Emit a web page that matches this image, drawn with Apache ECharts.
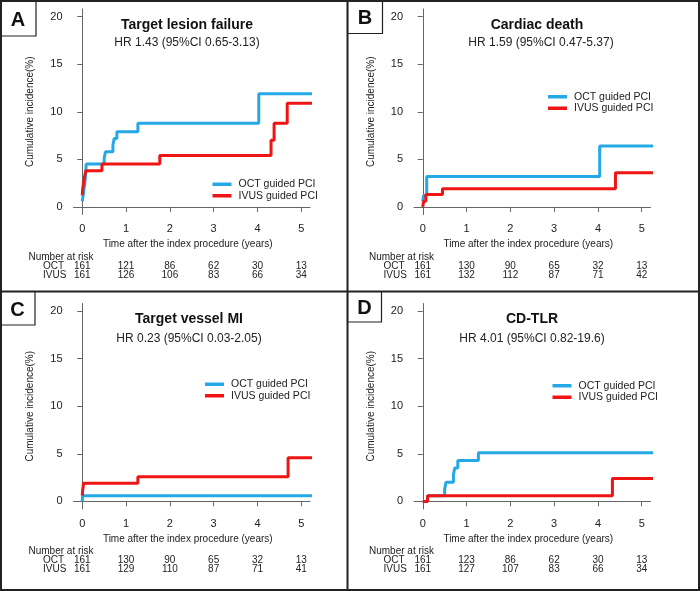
<!DOCTYPE html>
<html>
<head>
<meta charset="UTF-8">
<title></title>
<script src="https://cdn.jsdelivr.net/npm/echarts@6/dist/echarts.min.js"></script>
<style>
html, body { margin: 0; padding: 0; background: #fff; }
#main { width: 700px; height: 591px; }
</style>
</head>
<body>
<div id="main"></div>
<script>
var letters = ['A', 'B', 'C', 'D'];
var titles = ['Target lesion failure', 'Cardiac death', 'Target vessel MI', 'CD-TLR'];
var hrTexts = ['HR 1.43 (95%CI 0.65-3.13)', 'HR 1.59 (95%CI 0.47-5.37)',
               'HR 0.23 (95%CI 0.03-2.05)', 'HR 4.01 (95%CI 0.82-19.6)'];
var seriesNames = ['OCT guided PCI', 'IVUS guided PCI'];
var xTicks = [0, 1, 2, 3, 4, 5];
var yTicks = [0, 5, 10, 15, 20];

// step curves: time (years) / cumulative incidence (%) after each step
var octTimeA = [0, 0.02, 0.04, 0.06, 0.07, 0.08, 0.09, 0.50, 0.53, 0.70, 0.73, 0.79, 1.27, 4.03, 5.3];
var octValA  = [0.6, 1.2, 1.9, 2.5, 3.1, 3.7, 4.5, 5.1, 5.8, 6.5, 7.2, 7.9, 8.8, 11.9, 11.9];
var ivusTimeA = [0, 0.01, 0.03, 0.05, 0.08, 0.45, 1.77, 4.31, 4.38, 4.68, 5.3];
var ivusValA  = [1.2, 1.9, 2.5, 3.1, 3.8, 4.5, 5.4, 7.0, 8.8, 10.9, 10.9];

var octTimeB = [0, 0.02, 0.09, 4.04, 5.3];
var octValB  = [0.6, 1.2, 3.2, 6.4, 6.4];
var ivusTimeB = [0, 0.02, 0.07, 0.45, 4.40, 5.3];
var ivusValB  = [0, 0.6, 1.3, 1.9, 3.6, 3.6];

var octTimeC = [0, 0.01, 5.3];
var octValC  = [0, 0.6, 0.6];
var ivusTimeC = [0, 0.01, 0.03, 1.27, 4.70, 5.3];
var ivusValC  = [0.6, 1.2, 1.9, 2.6, 4.6, 4.6];

var octTimeD = [0, 0.11, 0.50, 0.53, 0.70, 0.73, 0.80, 1.27, 5.3];
var octValD  = [0, 0.6, 1.3, 2.0, 2.8, 3.5, 4.3, 5.1, 5.1];
var ivusTimeD = [0, 0.11, 4.33, 5.3];
var ivusValD  = [0, 0.6, 2.4, 2.4];

// number at risk at each x tick
var riskOctA = [161, 121, 86, 62, 30, 13];
var riskIvusA = [161, 126, 106, 83, 66, 34];
var riskOctB = [161, 130, 90, 65, 32, 13];
var riskIvusB = [161, 132, 112, 87, 71, 42];
var riskOctC = [161, 130, 90, 65, 32, 13];
var riskIvusC = [161, 129, 110, 87, 71, 41];
var riskOctD = [161, 123, 86, 62, 30, 13];
var riskIvusD = [161, 127, 107, 83, 66, 34];

var curves = [
  [[octTimeA, octValA], [ivusTimeA, ivusValA]],
  [[octTimeB, octValB], [ivusTimeB, ivusValB]],
  [[octTimeC, octValC], [ivusTimeC, ivusValC]],
  [[octTimeD, octValD], [ivusTimeD, ivusValD]]
];
var risks = [[riskOctA, riskIvusA], [riskOctB, riskIvusB], [riskOctC, riskIvusC], [riskOctD, riskIvusD]];

var FONT = 'Liberation Sans, Arial, Helvetica, sans-serif';
var TXT = '#222';
var AX = '#666';
var colors = ['#25a9e6', '#f01414'];
var GW = 236.5, GH = 205.5;

// layout of each panel
var panels = [
  { left: 73.5, top: 9, titleX: 187, titleY: 25, hrY: 43, legX: 212.5, legY: 178.5, box: [0, 0, 36, 36] },
  { left: 414, top: 9, titleX: 537, titleY: 25, hrY: 43, legX: 548, legY: 91, box: [347.5, 0, 35, 33.5] },
  { left: 73.5, top: 303.5, titleX: 189, titleY: 319.5, hrY: 338.5, legX: 205, legY: 378.5, box: [0, 291.5, 35, 33.5] },
  { left: 414, top: 303.5, titleX: 532, titleY: 319.5, hrY: 338.5, legX: 552.5, legY: 380, box: [347.5, 291.5, 34, 30.5] }
];

function pairs(t, v) {
  return t.map(function (x, i) { return [x, v[i]]; });
}

var grids = [], xAxes = [], yAxes = [], series = [], legends = [], graphics = [];

panels.forEach(function (p, k) {
  grids.push({ left: p.left, top: p.top, width: GW, height: GH });

  xAxes.push({
    gridIndex: k, type: 'value', min: -0.2, max: 5.2,
    name: 'Time after the index procedure (years)', nameLocation: 'middle', nameGap: 25,
    nameTextStyle: { fontFamily: FONT, fontSize: 10, color: TXT, padding: [0, 8, 0, 0] },
    axisLine: { lineStyle: { color: AX, width: 1 } },
    axisTick: { customValues: xTicks, length: 5, lineStyle: { color: AX } },
    axisLabel: { customValues: xTicks, margin: 9, fontFamily: FONT, fontSize: 11, color: TXT },
    splitLine: { show: false }
  });
  // risk table row, positioned under the same scale
  xAxes.push({
    gridIndex: k, type: 'value', min: -0.2, max: 5.2, position: 'bottom', offset: 40,
    axisLine: { show: false }, axisTick: { show: false }, splitLine: { show: false },
    axisLabel: {
      customValues: xTicks, margin: 7, fontFamily: FONT, fontSize: 10, lineHeight: 9, color: TXT,
      formatter: function (v) {
        var i = xTicks.indexOf(v);
        return risks[k][0][i] + '\n' + risks[k][1][i];
      }
    }
  });

  yAxes.push({
    gridIndex: k, type: 'value', min: -0.8, max: 20.8,
    name: 'Cumulative incidence(%)', nameLocation: 'middle', nameGap: 38,
    nameTextStyle: { fontFamily: FONT, fontSize: 10, color: TXT },
    axisLine: { show: true, lineStyle: { color: AX, width: 1 } },
    axisTick: { show: true, customValues: yTicks, length: 5, lineStyle: { color: AX } },
    axisLabel: { customValues: yTicks, margin: 11, fontFamily: FONT, fontSize: 11, color: TXT },
    splitLine: { show: false }
  });

  curves[k].forEach(function (c, s) {
    series.push({
      name: seriesNames[s], type: 'line', step: 'end',
      xAxisIndex: k * 2, yAxisIndex: k,
      data: pairs(c[0], c[1]),
      symbol: 'none', color: colors[s],
      lineStyle: { width: 3, color: colors[s] },
      z: 2 + s
    });
  });

  legends.push({
    data: seriesNames, orient: 'vertical', left: p.legX, top: p.legY,
    icon: 'rect', itemWidth: 19, itemHeight: 3.5, itemGap: 0, padding: 0,
    selectedMode: false,
    textStyle: { fontFamily: FONT, fontSize: 10.5, color: TXT, lineHeight: 11.5, padding: [0, 0, 0, 2] }
  });

  graphics.push({
    type: 'text', x: p.titleX, y: p.titleY,
    style: { text: titles[k], fontFamily: FONT, fontSize: 14, fontWeight: 'bold', fill: '#111',
             textAlign: 'center', textVerticalAlign: 'middle' }
  });
  graphics.push({
    type: 'text', x: p.titleX + (k === 1 ? 4 : 0), y: p.hrY,
    style: { text: hrTexts[k], fontFamily: FONT, fontSize: 12, fill: TXT,
             textAlign: 'center', textVerticalAlign: 'middle' }
  });

  var axisBottom = p.top + GH;
  graphics.push({
    type: 'text', x: p.left - 45, y: axisBottom + 42.5,
    style: { text: 'Number at risk', fontFamily: FONT, fontSize: 10, fill: TXT, textVerticalAlign: 'middle' }
  });
  graphics.push({
    type: 'text', x: p.left - 30.5, y: axisBottom + 51.7,
    style: { text: 'OCT', fontFamily: FONT, fontSize: 10, fill: TXT, textVerticalAlign: 'middle' }
  });
  graphics.push({
    type: 'text', x: p.left - 30.5, y: axisBottom + 60.5,
    style: { text: 'IVUS', fontFamily: FONT, fontSize: 10, fill: TXT, textVerticalAlign: 'middle' }
  });

  // letter box
  graphics.push({
    type: 'rect', shape: { x: p.box[0], y: p.box[1], width: p.box[2], height: p.box[3] },
    style: { fill: '#fff', stroke: '#222', lineWidth: 1.2 }
  });
  graphics.push({
    type: 'text', x: p.box[0] + p.box[2] / 2, y: p.box[1] + p.box[3] / 2 + 2,
    style: { text: letters[k], fontFamily: FONT, fontSize: 20, fontWeight: 'bold', fill: '#111',
             textAlign: 'center', textVerticalAlign: 'middle' }
  });
});

// outer frame and panel dividers
graphics.push({ type: 'rect', shape: { x: 1, y: 1, width: 698, height: 589 },
                style: { fill: 'none', stroke: '#222', lineWidth: 2 } });
graphics.push({ type: 'line', shape: { x1: 347.5, y1: 0, x2: 347.5, y2: 591 },
                style: { stroke: '#222', lineWidth: 2 } });
graphics.push({ type: 'line', shape: { x1: 0, y1: 291.5, x2: 700, y2: 291.5 },
                style: { stroke: '#222', lineWidth: 2 } });

var myChart = echarts.init(document.getElementById('main'));
myChart.setOption({
  animation: false,
  backgroundColor: '#fff',
  grid: grids,
  xAxis: xAxes,
  yAxis: yAxes,
  legend: legends,
  series: series,
  graphic: graphics
});
</script>
</body>
</html>
